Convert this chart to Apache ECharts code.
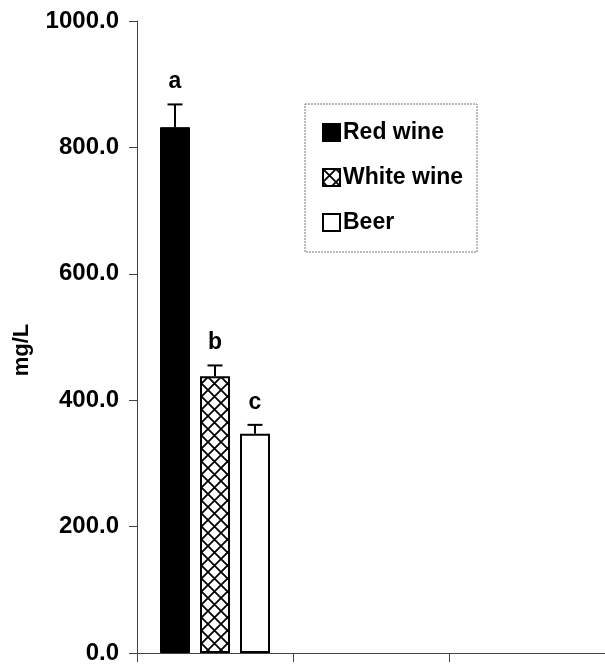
<!DOCTYPE html>
<html>
<head>
<meta charset="utf-8">
<script src="https://cdn.jsdelivr.net/npm/echarts@6/dist/echarts.min.js"></script>
<style>
html,body{margin:0;padding:0;background:#fff;}
#c{width:605px;height:665px;}
</style>
</head>
<body>
<div id="c"></div>
<script>
// ---- data ----
const categories = ['', '', ''];
const seriesNames = ['Red wine', 'White wine', 'Beer'];
const means = [832, 438, 347];
const errors = [36, 17, 14];
const letters = ['a', 'b', 'c'];
const yTicks = [0, 200, 400, 600, 800, 1000];

const FONT = '"Liberation Sans", Arial, sans-serif';

// hatch pattern
function makeHatch() {
  const s = 13;
  const cv = document.createElement('canvas');
  cv.width = s; cv.height = s;
  const g = cv.getContext('2d');
  g.fillStyle = '#fff'; g.fillRect(0, 0, s, s);
  g.strokeStyle = '#000'; g.lineWidth = 1.8;
  g.beginPath();
  g.moveTo(-1, -1); g.lineTo(s + 1, s + 1);
  g.moveTo(s + 1, -1); g.lineTo(-1, s + 1);
  g.stroke();
  return cv;
}
const hatch = { image: makeHatch(), repeat: 'repeat' };

const styles = [
  { color: '#000', borderColor: '#000', borderWidth: 1 },
  { color: hatch, borderColor: '#000', borderWidth: 2 },
  { color: '#fff', borderColor: '#000', borderWidth: 2 }
];

const BAR_W = 30, BAR_GAP = 10;

const barSeries = seriesNames.map((name, i) => ({
  name,
  type: 'bar',
  data: categories.map((c, k) => k === 0 ? means[i] : '-'),
  barWidth: BAR_W,
  barGap: (BAR_GAP / BAR_W * 100) + '%',
  itemStyle: styles[i],
  animation: false
}));

const errData = means.map((m, i) => [0, m, errors[i], i, letters[i]]);

const errSeries = {
  type: 'custom',
  name: 'err',
  data: errData,
  z: 5,
  animation: false,
  silent: true,
  renderItem: function (params, api) {
    const idx = api.value(3);
    const n = seriesNames.length;
    const offset = (idx - (n - 1) / 2) * (BAR_W + BAR_GAP);
    const base = api.coord([api.value(0), api.value(1)]);
    const top = api.coord([api.value(0), api.value(1) + api.value(2)]);
    const x = base[0] + offset;
    const cap = 7.5;
    return {
      type: 'group',
      children: [
        { type: 'line', shape: { x1: x, y1: base[1], x2: x, y2: top[1] }, style: { stroke: '#000', lineWidth: 2 } },
        { type: 'line', shape: { x1: x - cap, y1: top[1], x2: x + cap, y2: top[1] }, style: { stroke: '#000', lineWidth: 2 } },
        { type: 'text', x: x, y: top[1] - 11, style: { text: letters[idx], font: 'bold 23px ' + FONT, fill: '#000', align: 'center', verticalAlign: 'bottom' } }
      ]
    };
  }
};

const chart = echarts.init(document.getElementById('c'), null, { renderer: 'canvas' });
chart.setOption({
  backgroundColor: '#fff',
  animation: false,
  grid: { left: 137, right: 0, top: 21, bottom: 9, containLabel: false },
  legend: {
    data: seriesNames,
    orient: 'vertical',
    left: 317,
    top: 116,
    itemWidth: 17,
    itemHeight: 17,
    itemGap: 22,
    icon: 'rect',
    textStyle: { fontFamily: FONT, fontWeight: 'bold', fontSize: 23, color: '#000', padding: [0, 0, 0, -2] },
    selectedMode: false
  },
  graphic: [{
    type: 'rect',
    shape: { x: 305, y: 104, width: 172, height: 148 },
    style: { fill: 'none', stroke: '#777', lineWidth: 1, lineDash: [2, 1] },
    z: -1
  }, {
    type: 'text',
    x: 22, y: 350,
    rotation: Math.PI / 2,
    style: { text: 'mg/L', font: 'bold 22px ' + FONT, fill: '#000', align: 'center', verticalAlign: 'middle' }
  }],
  xAxis: {
    type: 'category',
    data: categories,
    axisLine: { lineStyle: { color: '#444', width: 1 } },
    axisTick: { show: true, length: 9, lineStyle: { color: '#444' } },
    axisLabel: { show: false },
    splitLine: { show: false }
  },
  yAxis: {
    type: 'value',
    min: yTicks[0],
    max: yTicks[yTicks.length - 1],
    interval: yTicks[1] - yTicks[0],
    axisLine: { show: true, lineStyle: { color: '#444', width: 1 } },
    axisTick: { show: true, length: 8, lineStyle: { color: '#444' } },
    axisLabel: { formatter: v => v.toFixed(1), fontFamily: FONT, fontWeight: 'bold', fontSize: 24, color: '#000', margin: 18 },
    splitLine: { show: false }
  },
  series: barSeries.concat([errSeries])
});
</script>
</body>
</html>
